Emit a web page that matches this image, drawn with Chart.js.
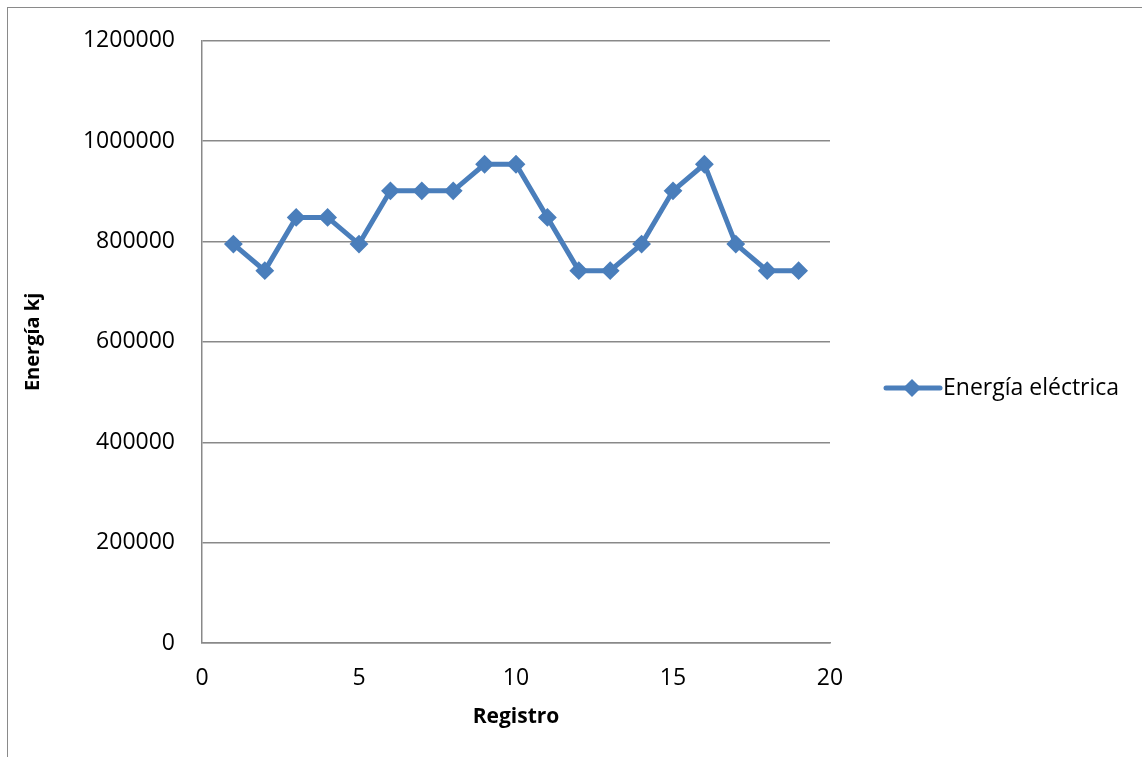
<!DOCTYPE html>
<html>
<head>
<meta charset="utf-8">
<script src="https://cdn.jsdelivr.net/npm/chart.js@4/dist/chart.umd.min.js"></script>
<style>
  html, body { margin: 0; padding: 0; background: #fff; overflow: hidden; }
  #frame { position: absolute; left: 7px; top: 7px; width: 1200px; height: 800px; border: 1.5px solid #8a8a8a; }
  #chart { position: absolute; left: 0; top: 0; }
</style>
</head>
<body>
<div id="frame"></div>
<canvas id="chart" width="1142" height="757"></canvas>
<script>
const registros = [1, 2, 3, 4, 5, 6, 7, 8, 9, 10, 11, 12, 13, 14, 15, 16, 17, 18, 19];
const energia = [
  795000, 742000, 848000, 848000, 795000, 901000, 901000, 901000, 954000, 954000,
  848000, 742000, 742000, 795000, 901000, 954000, 795000, 742000, 742000,
];
const serieLabel = "Energía eléctrica";
const blue = "#4a7ebb";
const gridGray = "#898989";
const fontFamily = "'Open Sans', sans-serif";

// legend drawn by hand: line + diamond + text, on the right
const sideLegend = {
  id: "sideLegend",
  afterDraw(chart) {
    const ctx = chart.ctx;
    const y = 388;
    ctx.save();
    ctx.strokeStyle = blue;
    ctx.lineWidth = 5;
    ctx.lineCap = "round";
    ctx.beginPath();
    ctx.moveTo(886, y);
    ctx.lineTo(940, y);
    ctx.stroke();
    ctx.fillStyle = blue;
    ctx.beginPath();
    ctx.moveTo(912 - 9, y);
    ctx.lineTo(912, y - 9);
    ctx.lineTo(912 + 9, y);
    ctx.lineTo(912, y + 9);
    ctx.closePath();
    ctx.fill();
    ctx.fillStyle = "#000";
    ctx.font = "23px " + fontFamily;
    ctx.textAlign = "left";
    ctx.textBaseline = "middle";
    ctx.fillText(serieLabel, 943, y);
    ctx.restore();
  },
};

new Chart(document.querySelector("#chart").getContext("2d"), {
  type: "line",
  data: {
    datasets: [
      {
        label: serieLabel,
        data: registros.map((r, i) => ({ x: r, y: energia[i] })),
        borderColor: blue,
        backgroundColor: blue,
        borderWidth: 5,
        pointStyle: "rectRot",
        pointRadius: 8,
        pointBorderWidth: 2,
        pointBorderColor: blue,
        pointBackgroundColor: blue,
        tension: 0,
      },
    ],
  },
  options: {
    responsive: false,
    animation: false,
    layout: { padding: { left: 0, top: 36, right: 312, bottom: 0 } },
    plugins: { legend: { display: false }, tooltip: { enabled: false } },
    scales: {
      x: {
        type: "linear",
        min: 0,
        max: 20,
        ticks: {
          stepSize: 5,
          padding: 22,
          color: "#000",
          font: { family: fontFamily, size: 23 },
          callback: (v) => String(v),
        },
        grid: { display: false, drawTicks: false },
        border: { display: true, color: gridGray, width: 1.5 },
        title: {
          display: true,
          text: "Registro",
          color: "#000",
          font: { family: fontFamily, size: 21, weight: "bold" },
          padding: { top: 4, bottom: 27 },
        },
        afterFit(scale) { scale.height = 114; },
      },
      y: {
        min: 0,
        max: 1200000,
        ticks: {
          stepSize: 200000,
          padding: 27,
          color: "#000",
          font: { family: fontFamily, size: 23 },
          callback: (v) => String(v),
        },
        grid: { color: gridGray, lineWidth: 1.5, drawTicks: false },
        border: { display: true, color: gridGray, width: 1.5 },
        title: {
          display: true,
          text: "Energía kj",
          color: "#000",
          font: { family: fontFamily, size: 20, weight: "bold" },
          padding: { top: 21, bottom: 4 },
        },
        afterFit(scale) { scale.width = 202; },
      },
    },
  },
  plugins: [sideLegend],
});
</script>
</body>
</html>
